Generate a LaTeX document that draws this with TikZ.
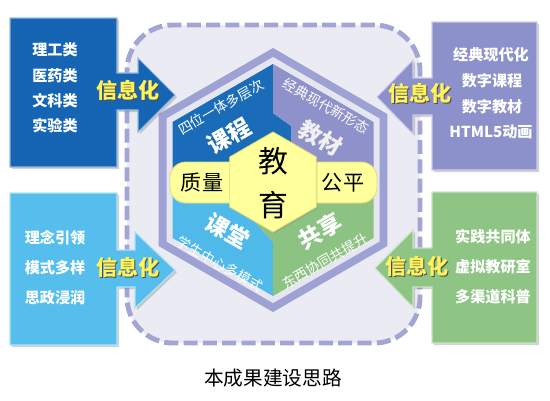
\documentclass[tikz,border=0pt]{standalone}
\usepackage{fontspec}
\setmainfont{Noto Sans CJK SC}
\usetikzlibrary{shadows}
\definecolor{bgsq}{HTML}{EBEBF3}
\definecolor{dashc}{HTML}{A3A6D4}
\definecolor{bandc}{HTML}{9EA1D3}
\definecolor{ringc}{HTML}{E6E6F0}
\definecolor{qdark}{HTML}{1A6CB8}
\definecolor{qlav}{HTML}{8F92CA}
\definecolor{qlight}{HTML}{4FB9EA}
\definecolor{qgreen}{HTML}{8CC282}
\definecolor{bdark}{HTML}{1565B4}
\definecolor{blav}{HTML}{8C90CB}
\definecolor{blight}{HTML}{56BEEC}
\definecolor{bgreen}{HTML}{8EC484}
\definecolor{yel}{HTML}{FFFF9C}
\definecolor{yeledge}{HTML}{E6DE78}
\definecolor{xtext}{HTML}{FFF25A}
\newcommand{\shtext}[3]{\makebox[0pt][l]{\hspace{0.6pt}\raisebox{-0.6pt}{\textcolor{#2}{#3}}}\textcolor{#1}{#3}}
\tikzset{
  arrowbox/.style={draw=white!55!#1, line width=0.6pt, fill=#1,
    drop shadow={opacity=0.35, shadow xshift=1.2pt, shadow yshift=-1.2pt}},
  boxtext/.style={text=white, font=\fontsize{8.6}{10}\selectfont\bfseries, inner sep=0pt},
  xxh/.style={font=\fontsize{12}{14}\selectfont\bfseries, inner sep=0pt},
  bigq/.style={text=white, font=\fontsize{13}{16}\selectfont\bfseries, inner sep=0pt},
  smallq/.style={text=white, font=\fontsize{7.8}{10}\selectfont, inner sep=0pt},
  ctext/.style={text=black, font=\fontsize{12}{14}\selectfont, inner sep=0pt},
  jiaoyu/.style={text=black, font=\fontsize{17}{20}\selectfont, inner sep=0pt},
}
\begin{document}
\begin{tikzpicture}[x=0.02cm,y=-0.02cm]
\useasboundingbox (0,0) rectangle (550,400);
\fill[white] (0,0) rectangle (550,400);
% dashed rounded square
\draw[dashc, fill=bgsq, line width=2.8pt, dash pattern=on 8pt off 3pt, rounded corners=26pt]
  (127,25) rectangle (420,343);
% hexagon frame
\fill[bandc] (273,48) -- (387.3,114) -- (387.3,246) -- (273,312) -- (158.7,246) -- (158.7,114) -- cycle;
\fill[ringc] (273,57) -- (379.5,118.5) -- (379.5,241.5) -- (273,303) -- (166.5,241.5) -- (166.5,118.5) -- cycle;
% quadrants
\fill[qdark] (273,64) -- (172.5,122) -- (172.5,182) -- (291,182) -- (291,126) -- (273,113) -- cycle;
\fill[qlav] (273,64) -- (373.5,122) -- (373.5,182) -- (291,182) -- (291,126) -- (273,113) -- cycle;
\fill[qlight] (273,296) -- (172.5,238) -- (172.5,182) -- (255,182) -- (255,222) -- (273,242) -- cycle;
\fill[qgreen] (273,296) -- (373.5,238) -- (373.5,182) -- (255,182) -- (255,222) -- (273,242) -- cycle;
% yellow bar and center hexagon
\filldraw[fill=yel, draw=yeledge, line width=0.5pt, rounded corners=9pt] (170,162) rectangle (377,203);
\filldraw[fill=yel, draw=yeledge, line width=0.5pt,
  drop shadow={opacity=0.25, shadow xshift=0.8pt, shadow yshift=-0.8pt}]
  (273,132) -- (316.3,157) -- (316.3,207) -- (273,232) -- (229.7,207) -- (229.7,157) -- cycle;
\node[jiaoyu] (jiao) at (273,161) {教};
\node[jiaoyu] (yu) at (273,205) {育};
\node[ctext] (zhiliang) at (202,183) {质量};
\node[ctext] (gongping) at (343,183) {公平};
% quadrant labels
\node[bigq, rotate=30] (kc) at (229,136) {课程};
\node[smallq, rotate=30] (kcsub) at (221,107) {四位一体多层次};
\node[bigq, rotate=-30, text=white!94!black] (jc) at (321,138) {教材};
\node[smallq, rotate=-30] (jcsub) at (326,106) {经典现代新形态};
\node[bigq, rotate=-30] (kt) at (228,231) {课堂};
\node[smallq, rotate=-30] (ktsub) at (220,264) {学生中心多模式};
\node[bigq, rotate=30] (gx) at (320,231) {共享};
\node[smallq, rotate=30] (gxsub) at (325,261) {东西协同共提升};
% top-left box
\filldraw[arrowbox=bdark] (10,18) -- (117,18) -- (117,73) -- (138,73) -- (138,58) -- (175,95)
  -- (138,132) -- (138,110) -- (117,110) -- (117,167) -- (10,167) -- cycle;
\node[boxtext] (a1) at (55,50) {理工类};
\node[boxtext] (a2) at (55,76) {医药类};
\node[boxtext] (a3) at (55,101) {文科类};
\node[boxtext] (a4) at (55,126) {实验类};
\node[xxh] (xa) at (128,91) {\shtext{xtext}{black!70}{信息化}};
% bottom-left box
\filldraw[arrowbox=blight] (10,193) -- (117,193) -- (117,250) -- (135,250) -- (135,232) -- (175,270)
  -- (135,308) -- (135,287) -- (117,287) -- (117,345) -- (10,345) -- cycle;
\node[boxtext] (b1) at (55,238) {理念引领};
\node[boxtext] (b2) at (55,268) {模式多样};
\node[boxtext] (b3) at (55,298) {思政浸润};
\node[xxh] (xb) at (128,268) {\shtext{xtext}{black!70}{信息化}};
% top-right box
\filldraw[arrowbox=blav] (537,22) -- (432,22) -- (432,78) -- (413,78) -- (413,60) -- (377,97)
  -- (413,134) -- (413,115) -- (432,115) -- (432,170) -- (537,170) -- cycle;
\node[boxtext] (c1) at (491,55) {经典现代化};
\node[boxtext] (c2) at (492,81) {数字课程};
\node[boxtext] (c3) at (492,107) {数字教材};
\node[boxtext] (c4) at (491,132) {HTML5动画};
\node[xxh] (xc) at (420,94) {\shtext{xtext}{black!70}{信息化}};
% bottom-right box
\filldraw[arrowbox=bgreen] (537,192) -- (432,192) -- (432,248) -- (413,248) -- (413,230) -- (375,268)
  -- (413,307) -- (413,287) -- (432,287) -- (432,343) -- (537,343) -- cycle;
\node[boxtext] (d1) at (493,237) {实践共同体};
\node[boxtext] (d2) at (493,267) {虚拟教研室};
\node[boxtext] (d3) at (493,297) {多渠道科普};
\node[xxh] (xd) at (417,267) {\shtext{xtext}{black!70}{信息化}};
% caption
\node[text=black, font=\fontsize{11.2}{13}\selectfont, inner sep=0pt] (cap) at (273,378) {本成果建设思路};
\end{tikzpicture}
\end{document}
